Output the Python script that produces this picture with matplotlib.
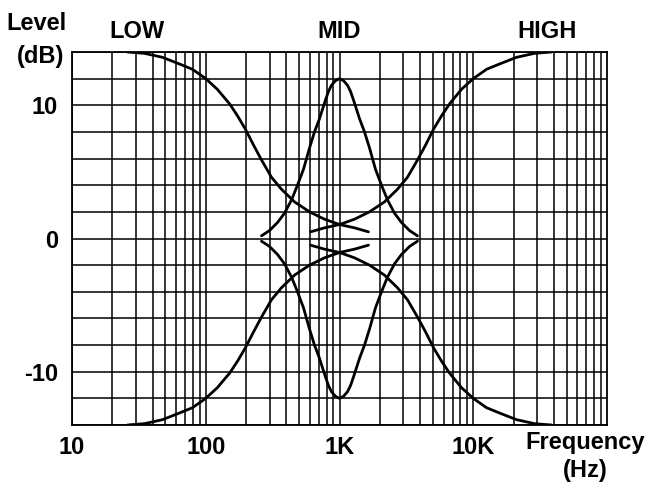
import numpy as np
import matplotlib
matplotlib.use("Agg")
import matplotlib.pyplot as plt
from matplotlib.ticker import LogLocator, NullFormatter, FixedLocator

# --- values (frequency in Hz, level in dB) ---
low_boost_freq = [26.0, 34.8, 47.5, 63.6, 79.6, 100, 122, 151, 173, 198, 228,
                  261, 310, 368, 461, 597, 772, 1000, 1295, 1647]
low_boost_db = [14.0, 13.9, 13.6, 13.1, 12.7, 12.0, 11.2, 10.1, 9.2, 8.2, 7.0,
                5.9, 4.6, 3.7, 2.75, 2.0, 1.45, 1.05, 0.8, 0.5]
low_cut_db = [-14.0, -13.9, -13.6, -13.1, -12.7, -12.0, -11.2, -10.1, -9.2, -8.2, -7.0,
              -5.9, -4.6, -3.7, -2.75, -2.0, -1.45, -1.05, -0.8, -0.5]

high_boost_freq = [607, 772, 1000, 1295, 1676, 2170, 2714, 3224, 3831, 4395, 5044,
                   5789, 6644, 8169, 10000, 12560, 15720, 21060, 28710, 38460]
high_boost_db = [0.5, 0.8, 1.05, 1.45, 2.0, 2.75, 3.7, 4.6, 5.9, 7.0, 8.2,
                 9.2, 10.1, 11.2, 12.0, 12.7, 13.1, 13.6, 13.9, 14.0]
high_cut_db = [-0.5, -0.8, -1.05, -1.45, -2.0, -2.75, -3.7, -4.6, -5.9, -7.0, -8.2,
               -9.2, -10.1, -11.2, -12.0, -12.7, -13.1, -13.6, -13.9, -14.0]

mid_freq = [261, 300, 344, 388, 438, 485, 538, 597, 650, 709, 746, 786, 828, 871,
            934, 1000, 1071, 1148, 1208, 1272, 1340, 1411, 1538, 1676, 1858,
            2061, 2285, 2577, 2908, 3337, 3831]
mid_boost_db = [0.2, 0.6, 1.2, 1.9, 2.9, 4.0, 5.2, 6.8, 8.0, 9.0, 9.7, 10.4, 11.05, 11.5,
                11.85, 12.0, 11.85, 11.5, 11.05, 10.4, 9.7, 9.0, 8.0, 6.8, 5.2,
                4.0, 2.9, 1.9, 1.2, 0.6, 0.2]
mid_cut_db = [-0.2, -0.6, -1.2, -1.9, -2.9, -4.0, -5.2, -6.8, -8.0, -9.0, -9.7, -10.4, -11.05, -11.5,
              -11.85, -12.0, -11.85, -11.5, -11.05, -10.4, -9.7, -9.0, -8.0, -6.8, -5.2,
              -4.0, -2.9, -1.9, -1.2, -0.6, -0.2]

x_ticks = [10, 100, 1000, 10000]
x_tick_labels = ["10", "100", "1K", "10K"]
y_ticks = [-10, 0, 10]
y_tick_labels = ["-10", "0", "10"]
band_names = ["LOW", "MID", "HIGH"]
band_freqs = [30.6, 1000, 35500]

plt.rcParams["font.family"] = ["Liberation Sans", "DejaVu Sans"]
plt.rcParams["font.weight"] = "bold"
FS = 17

fig = plt.figure(figsize=(6.46, 4.84), dpi=100)
ax = fig.add_axes([72 / 646, 1 - 425 / 484, 535 / 646, 373 / 484])

ax.set_xscale("log")
ax.set_xlim(10, 100000)
ax.set_ylim(-14, 14)

# grid: every decade subdivision on x, every 2 dB on y
ax.xaxis.set_major_locator(FixedLocator(x_ticks))
ax.xaxis.set_minor_locator(LogLocator(base=10, subs=np.arange(2, 10)))
ax.xaxis.set_minor_formatter(NullFormatter())
ax.yaxis.set_major_locator(FixedLocator(y_ticks))
ax.yaxis.set_minor_locator(FixedLocator(np.arange(-14, 15, 2)))
ax.grid(True, which="both", color="black", linewidth=1.1)
ax.set_axisbelow(True)

ax.set_xticklabels(x_tick_labels)
ax.set_yticklabels(y_tick_labels)
ax.tick_params(which="both", length=0)
ax.tick_params(axis="x", pad=8, labelsize=FS)
ax.tick_params(axis="y", pad=10, labelsize=FS)
for s in ax.spines.values():
    s.set_linewidth(1.3)

curve_kw = dict(color="black", linewidth=2.0, solid_capstyle="round",
                solid_joinstyle="round")
ax.plot(low_boost_freq, low_boost_db, **curve_kw)
ax.plot(low_boost_freq, low_cut_db, **curve_kw)
ax.plot(high_boost_freq, high_boost_db, **curve_kw)
ax.plot(high_boost_freq, high_cut_db, **curve_kw)
ax.plot(mid_freq, mid_boost_db, **curve_kw)
ax.plot(mid_freq, mid_cut_db, **curve_kw)

for name, f in zip(band_names, band_freqs):
    ax.text(f, 15.55, name, ha="center", va="center", fontsize=FS,
            fontweight="bold", clip_on=False)

fig.text(67 / 646, 1 - 23 / 484, "Level", ha="right", va="center",
         fontsize=FS, fontweight="bold")
fig.text(64 / 646, 1 - 56 / 484, "(dB)", ha="right", va="center",
         fontsize=FS, fontweight="bold")
fig.text(645 / 646, 1 - 443 / 484, "Frequency", ha="right", va="center",
         fontsize=FS, fontweight="bold")
fig.text(608 / 646, 1 - 471 / 484, "(Hz)", ha="right", va="center",
         fontsize=FS, fontweight="bold")

fig.savefig("out.png", dpi=100)
